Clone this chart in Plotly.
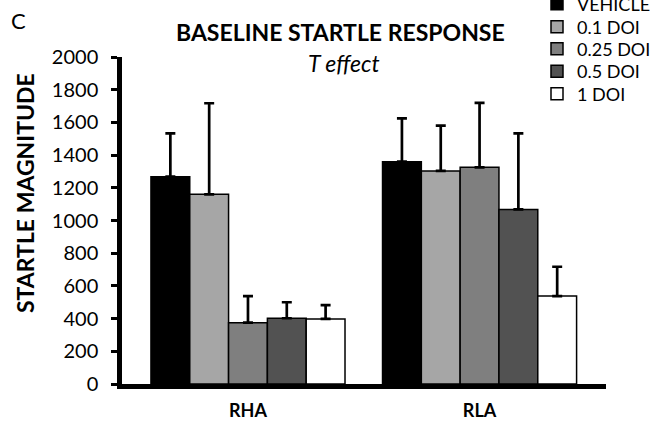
import plotly.graph_objects as go

categories = ["RHA", "RLA"]
series_names = ["VEHICLE", "0.1 DOI", "0.25 DOI", "0.5 DOI", "1 DOI"]
means = {
    "VEHICLE": [1268, 1360],
    "0.1 DOI": [1160, 1303],
    "0.25 DOI": [375, 1325],
    "0.5 DOI": [402, 1068],
    "1 DOI": [398, 538],
}
errors = {
    "VEHICLE": [265, 265],
    "0.1 DOI": [557, 277],
    "0.25 DOI": [163, 395],
    "0.5 DOI": [98, 465],
    "1 DOI": [85, 179],
}
colors = {
    "VEHICLE": "#000000",
    "0.1 DOI": "#a6a6a6",
    "0.25 DOI": "#7f7f7f",
    "0.5 DOI": "#525252",
    "1 DOI": "#ffffff",
}
y_ticks = [0, 200, 400, 600, 800, 1000, 1200, 1400, 1600, 1800, 2000]

FONT = "Lato"

W, H = 657, 426
L, R, T, B = 122, 51, 57, 42
pw = W - L - R
ph = H - T - B


def px(xp):
    return (xp - L) / pw


def py(yp):
    return (H - B - yp) / ph


legend_ids = ["legend", "legend2", "legend3", "legend4", "legend5"]
legend_rows = [4, 27, 49, 71.5, 94]

fig = go.Figure()
for name, lid in zip(series_names, legend_ids):
    fig.add_trace(go.Bar(
        x=categories,
        y=means[name],
        name=name,
        legend=lid,
        marker=dict(color=colors[name], line=dict(color="#000000", width=1.5)),
        error_y=dict(type="data", array=errors[name], symmetric=False,
                     arrayminus=[0] * len(categories),
                     color="#000000", thickness=2.7, width=5),
    ))

legend_layout = {}
for lid, row in zip(legend_ids, legend_rows):
    legend_layout[lid] = dict(
        x=px(537), y=py(row), xanchor="left", yanchor="middle",
        font=dict(family=FONT, size=18, color="#000000"),
        bgcolor="rgba(0,0,0,0)", borderwidth=0,
    )

fig.update_layout(
    width=W, height=H,
    margin=dict(l=L, r=R, t=T, b=B, autoexpand=False),
    paper_bgcolor="white", plot_bgcolor="white",
    barmode="group", bargap=0.162, bargroupgap=0,
    font=dict(family=FONT, color="#000000"),
    showlegend=True,
    xaxis=dict(
        range=[-0.544, 1.546],
        showline=True, linecolor="#000000", linewidth=5,
        ticks="", showgrid=False, zeroline=False,
        tickfont=dict(family=FONT, size=18, weight="bold"),
        ticklabelstandoff=6,
    ),
    yaxis=dict(
        range=[0, 2000], tickvals=y_ticks,
        showline=True, linecolor="#000000", linewidth=4.5,
        ticks="outside", ticklen=6, tickwidth=3, tickcolor="#000000",
        showgrid=False, zeroline=False,
        tickfont=dict(family=FONT, size=20),
        ticklabelstandoff=9,
    ),
    annotations=[
        dict(text="<b>BASELINE STARTLE RESPONSE</b>", x=px(340), y=py(32),
             xref="paper", yref="paper", showarrow=False,
             xanchor="center", yanchor="middle",
             font=dict(family=FONT, size=23)),
        dict(text="<i>T effect</i>", x=px(344), y=py(63),
             xref="paper", yref="paper", showarrow=False,
             xanchor="center", yanchor="middle",
             font=dict(family=FONT, size=23)),
        dict(text="C", x=px(18), y=py(20),
             xref="paper", yref="paper", showarrow=False,
             xanchor="center", yanchor="middle",
             font=dict(family=FONT, size=22)),
        dict(text="<b>STARTLE MAGNITUDE</b>", x=px(25), y=py(193),
             xref="paper", yref="paper", showarrow=False, textangle=-90,
             xanchor="center", yanchor="middle",
             font=dict(family=FONT, size=23)),
    ],
    **legend_layout,
)

fig.write_html("out.html")
